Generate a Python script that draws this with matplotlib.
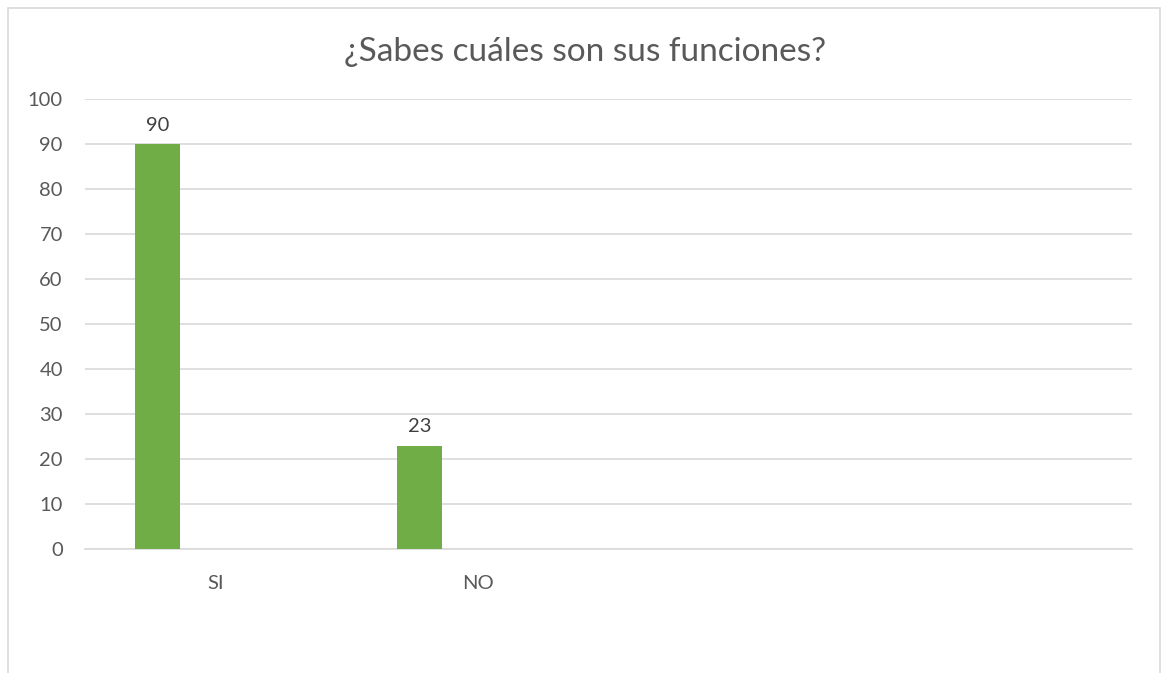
import matplotlib.pyplot as plt
from matplotlib.patches import Rectangle

# data
categories = ['SI', 'NO', '', '']
values = [90, 23]
yticks = list(range(0, 101, 10))

plt.rcParams['font.family'] = ['Lato', 'DejaVu Sans']

fig = plt.figure(figsize=(11.62, 6.73), dpi=100)
ax = fig.add_axes([85 / 1162, 124 / 673, 1047 / 1162, 450 / 673])

# chart border
fig.patches.append(Rectangle((8 / 1162, -0.1), 1152 / 1162, 1.1 - 8 / 673,
                             transform=fig.transFigure, fill=False,
                             edgecolor='#d9d9d9', linewidth=1.2))

offset = -0.223
width = 0.172
xs = [i + offset for i in range(len(values))]
bars = ax.bar(xs, values, width=width, color='#70ad47', zorder=3)
for b, v in zip(bars, values):
    ax.text(b.get_x() + b.get_width() / 2, v + 2.3, str(v), ha='center', va='bottom',
            fontsize=14.5, color='#404040')

ax.set_xlim(-0.5, len(categories) - 0.5)
ax.set_ylim(0, 100)
ax.set_yticks(yticks)
ax.set_xticks(range(len(categories)))
ax.set_xticklabels(categories)
ax.yaxis.grid(True, color='#d9d9d9', linewidth=1.2, zorder=0)
ax.tick_params(axis='both', length=0, colors='#595959', labelsize=14.5)
ax.tick_params(axis='y', pad=16)
ax.tick_params(axis='x', pad=19)
for s in ['top', 'right', 'left']:
    ax.spines[s].set_visible(False)
ax.spines['bottom'].set_color('#d9d9d9')
ax.spines['bottom'].set_linewidth(1.2)

fig.text(585 / 1162, 1 - 52 / 673, '¿Sabes cuáles son sus funciones?', ha='center', va='center',
         fontsize=24, color='#595959')

fig.savefig('out.png', dpi=100)
